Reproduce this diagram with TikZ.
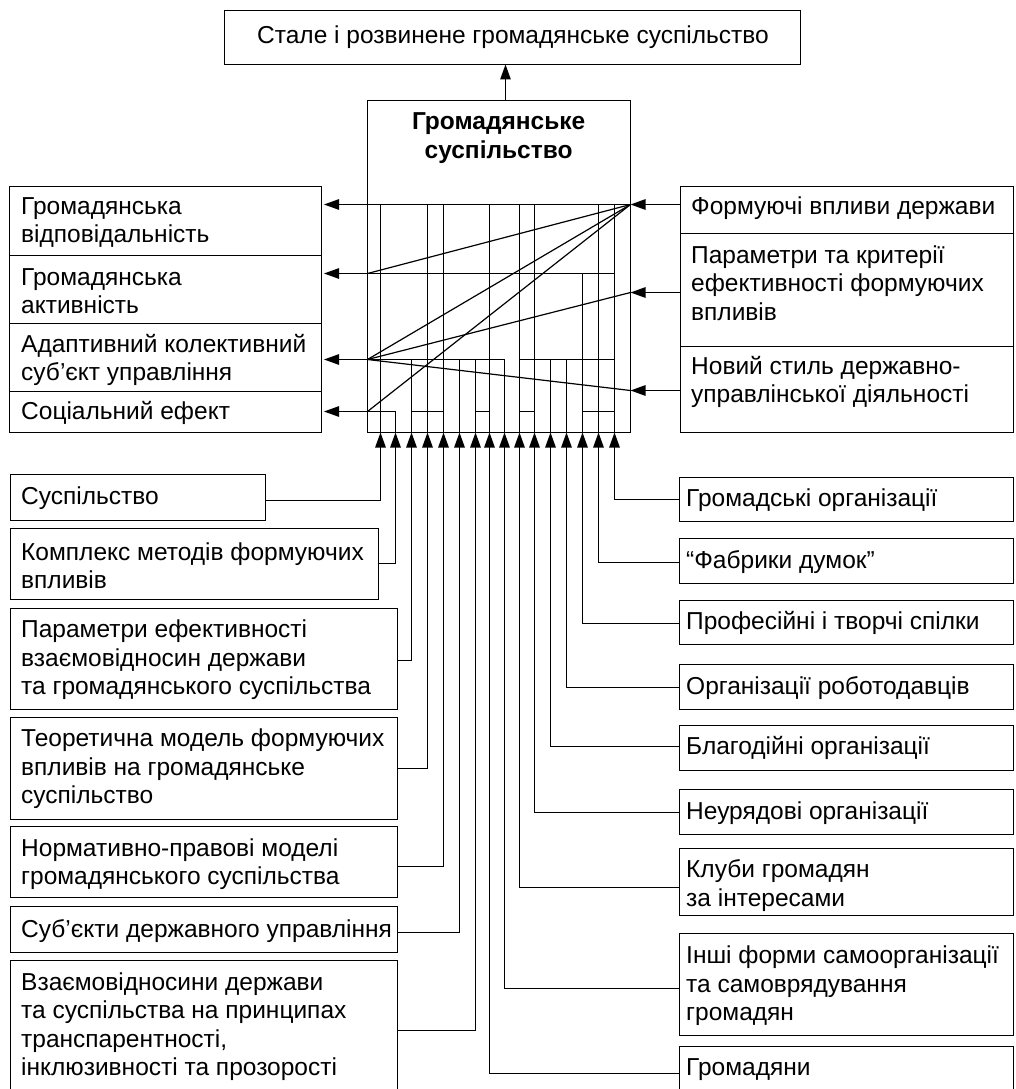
\documentclass[tikz,border=0pt]{standalone}
\usepackage{fontspec}
\setmainfont{Liberation Sans}
\usetikzlibrary{arrows.meta}
\newcommand\mkbox[5]{%
  \node[box, minimum width={#4pt-#2pt}, minimum height={#5pt-#3pt}] (#1) at ({(#2+#4)/2},{(#3+#5)/2}) {};}
\begin{document}
\begin{tikzpicture}[x=1pt,y=-1pt,
  box/.style={draw, line width=1.25pt, inner sep=0pt, outer sep=0pt},
  txt/.style={font=\fontsize{24.5}{28.5}\selectfont, align=left, inner sep=0pt, anchor=west},
  ln/.style={line width=1.2pt},
  arr/.style={ln, -{Triangle[length=15pt,width=10.5pt]}},
]
\useasboundingbox (0,0) rectangle (1015,1089);
\clip (0,0) rectangle (1015,1089);

% ---------- boxes ----------
\mkbox{T}{224.5}{10.5}{800.5}{64.5}
\mkbox{C}{367.5}{100.5}{630.5}{432.5}
\mkbox{L1}{9.5}{186.5}{321.5}{255.5}
\mkbox{L2}{9.5}{255.5}{321.5}{323.5}
\mkbox{L3}{9.5}{323.5}{321.5}{391.5}
\mkbox{L4}{9.5}{391.5}{321.5}{432.5}
\mkbox{R1}{680.5}{186.5}{1013.5}{233.5}
\mkbox{R2}{680.5}{233.5}{1013.5}{346.5}
\mkbox{R3}{680.5}{346.5}{1013.5}{432.5}
\mkbox{B1}{10.5}{474.5}{265.5}{520.5}
\mkbox{B2}{10.5}{528.5}{378.5}{599.5}
\mkbox{B3}{10.5}{608.5}{397.5}{709.5}
\mkbox{B4}{10.5}{717.5}{397.5}{819.5}
\mkbox{B5}{10.5}{826.5}{397.5}{897.5}
\mkbox{B6}{10.5}{906.5}{397.5}{952.5}
\mkbox{B7}{10.5}{960.5}{397.5}{1101.5}
\mkbox{R4}{679.5}{477.5}{1013.5}{521.5}
\mkbox{R5}{679.5}{538.5}{1013.5}{583.5}
\mkbox{R6}{679.5}{600.5}{1013.5}{644.5}
\mkbox{R7}{679.5}{664.5}{1013.5}{709.5}
\mkbox{R8}{679.5}{725.5}{1013.5}{770.5}
\mkbox{R9}{679.5}{789.5}{1013.5}{834.5}
\mkbox{R10}{679.5}{848.5}{1013.5}{915.5}
\mkbox{R11}{679.5}{933.5}{1013.5}{1035.5}
\mkbox{R12}{679.5}{1046.5}{1013.5}{1100.5}

% ---------- texts ----------
\node[txt, anchor=center, align=center] (Tt) at (513,37) {Стале і розвинене громадянське суспільство};
\node[txt, anchor=center, align=center, font=\fontsize{24.5}{29.4}\selectfont\bfseries] (Ct) at (498.6,138) {Громадянське\\суспільство};
\node[txt] (L1t) at (21,222.5) {Громадянська\\відповідальність};
\node[txt] (L2t) at (21,291) {Громадянська\\активність};
\node[txt] (L3t) at (21,360) {Адаптивний колективний\\суб’єкт управління};
\node[txt] (L4t) at (21,413) {Соціальний ефект};
\node[txt] (R1t) at (691,208.5) {Формуючі впливи держави};
\node[txt] (R2t) at (691,283) {Параметри та критерії\\ефективності формуючих\\впливів};
\node[txt] (R3t) at (691,382) {Новий стиль державно-\\управлінської діяльності};
\node[txt] (B1t) at (21,498.5) {Суспільство};
\node[txt] (B2t) at (21,565.5) {Комплекс методів формуючих\\впливів};
\node[txt] (B3t) at (21,660) {Параметри ефективності\\взаємовідносин держави\\та громадянського суспільства};
\node[txt] (B4t) at (21,769) {Теоретична модель формуючих\\впливів на громадянське\\суспільство};
\node[txt] (B5t) at (21,864) {Нормативно-правові моделі\\громадянського суспільства};
\node[txt] (B6t) at (21,930.7) {Суб’єкти державного управління};
\node[txt] (B7t) at (21,1026.7) {Взаємовідносини держави\\та суспільства на принципах\\транспарентності,\\інклюзивності та прозорості};
\node[txt] (R4t) at (686,500) {Громадські організації};
\node[txt] (R5t) at (686,561.7) {“Фабрики думок”};
\node[txt] (R6t) at (686,623.3) {Професійні і творчі спілки};
\node[txt] (R7t) at (686,688.3) {Організації роботодавців};
\node[txt] (R8t) at (686,748.3) {Благодійні організації};
\node[txt] (R9t) at (686,812.7) {Неурядові організації};
\node[txt] (R10t) at (686,885.5) {Клуби громадян\\за інтересами};
\node[txt] (R11t) at (686,985.8) {Інші форми самоорганізації\\та самоврядування\\громадян};
\node[txt] (R12t) at (686,1070) {Громадяни};

% ---------- internal levels ----------
\coordinate (pL1) at (367.5,204.5);
\coordinate (pL2) at (367.5,273.5);
\coordinate (pL3) at (367.5,359.5);
\coordinate (pL4) at (367.5,411.5);
\coordinate (qR1) at (630.5,204.5);
\coordinate (qR2) at (630.5,292.5);
\coordinate (qR3) at (630.5,390.5);

% bottom entry points of the 16 verticals
\foreach \i/\x in {1/380.5,2/395.5,3/411.5,4/427.5,5/443.5,6/459.5,7/475.5,8/489.5,
                   9/504.5,10/519.5,11/534.5,12/550.5,13/566.5,14/582.5,15/598.5,16/614.5}
  {\coordinate (b\i) at (\x,432.5);}

% verticals inside the box
\foreach \i/\t in {1/204.5,2/411.5,3/359.5,4/204.5,5/204.5,6/359.5,7/359.5,8/204.5,
                   9/359.5,10/204.5,11/204.5,12/359.5,13/359.5,14/273.5,15/204.5,16/204.5}
  {\draw[ln] (b\i) -- (b\i |- 0,\t);}

% horizontals inside the box
\draw[ln] (pL1) -- (qR1);
\draw[ln] (pL2) -- (b16 |- pL2);
\draw[ln] (pL3) -- (b9 |- pL3);
\draw[ln] (b10 |- pL3) -- (b16 |- pL3);
\draw[ln] (pL4) -- (b2 |- pL4);
\draw[ln] (b3 |- pL4) -- (b5 |- pL4);
\draw[ln] (b7 |- pL4) -- (b8 |- pL4);
\draw[ln] (b10 |- pL4) -- (b11 |- pL4);
\draw[ln] (b14 |- pL4) -- (b16 |- pL4);

% diagonals
\draw[ln] (qR1) -- (pL2);
\draw[ln] (qR1) -- (pL3);
\draw[ln] (qR1) -- (pL4);
\draw[ln] (pL3) -- (qR2);
\draw[ln] (pL3) -- (qR3);

% arrows to left boxes
\draw[arr, shorten >=2.5pt] (pL1) -- (pL1 -| L1.east);
\draw[arr, shorten >=2.5pt] (pL2) -- (pL2 -| L2.east);
\draw[arr, shorten >=2.5pt] (pL3) -- (pL3 -| L3.east);
\draw[arr, shorten >=2.5pt] (pL4) -- (pL4 -| L4.east);

% arrows from right boxes
\draw[arr] (qR1 -| R1.west) -- (qR1);
\draw[arr] (qR2 -| R2.west) -- (qR2);
\draw[arr] (qR3 -| R3.west) -- (qR3);

% arrow to the top box
\draw[arr] ([xshift=6.5pt]C.north) -- ([xshift=6.5pt]C.north |- T.south);

% inputs from the bottom boxes
\draw[arr] ([yshift=-3pt]B1.east) -| (b1);
\draw[arr] ([yshift=0.5pt]B2.east) -| (b2);
\draw[arr] ([yshift=-1.5pt]B3.east) -| (b3);
\draw[arr] (B4.east) -| (b4);
\draw[arr] ([yshift=-4.5pt]B5.east) -| (b5);
\draw[arr] ([yshift=-3pt]B6.east) -| (b6);
\draw[arr] ([yshift=0.5pt]B7.east) -| (b7);
\draw[arr] (R12.west) -| (b8);
\draw[arr] ([yshift=-4pt]R11.west) -| (b9);
\draw[arr] ([yshift=-5.5pt]R10.west) -| (b10);
\draw[arr] ([yshift=-0.5pt]R9.west) -| (b11);
\draw[arr] ([yshift=1.5pt]R8.west) -| (b12);
\draw[arr] ([yshift=-0.5pt]R7.west) -| (b13);
\draw[arr] ([yshift=-1pt]R6.west) -| (b14);
\draw[arr] ([yshift=-1.5pt]R5.west) -| (b15);
\draw[arr] (R4.west) -| (b16);
\end{tikzpicture}
\end{document}
